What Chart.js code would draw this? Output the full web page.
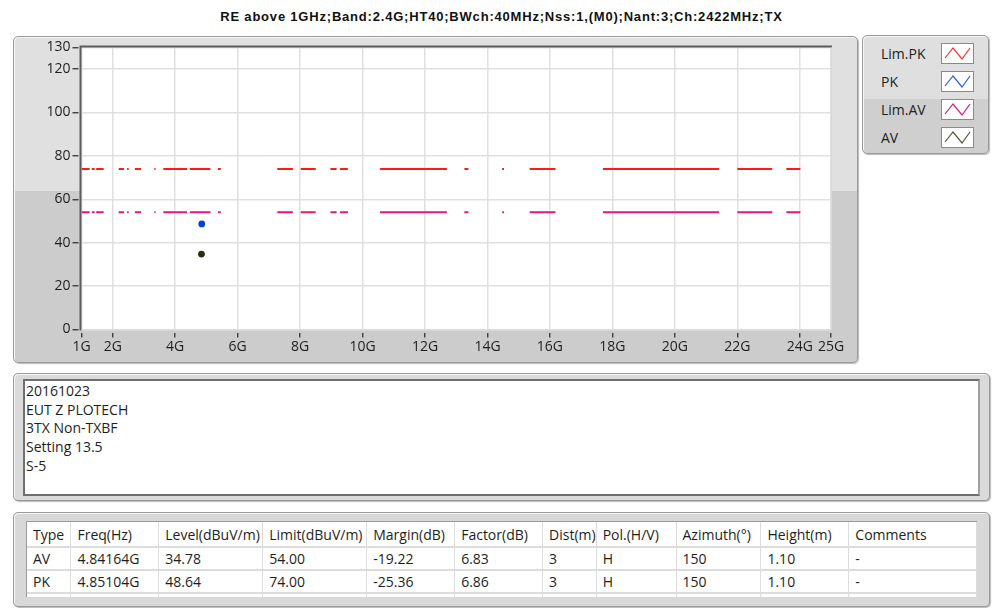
<!DOCTYPE html>
<html><head><meta charset="utf-8">
<script src="https://cdn.jsdelivr.net/npm/chart.js@4.4.0/dist/chart.umd.min.js"></script>
<style>
html,body{margin:0;padding:0;background:#fff;width:1003px;height:608px;overflow:hidden;font-family:"Open Sans",sans-serif;color:#1e1e1e;}
#title{position:absolute;left:0;top:9px;width:1003px;text-align:center;font:bold 13px "Liberation Sans",sans-serif;letter-spacing:0.8px;color:#111;}
.panel{position:absolute;box-sizing:border-box;border:1px solid #9a9a9a;border-radius:5px;box-shadow:1px 1px 1px rgba(0,0,0,0.28), inset 1px 1px 0 #f6f6f6;}
#gpanel{left:13px;top:36px;width:845px;height:327px;background:linear-gradient(to bottom,#e0e0e0 0,#e0e0e0 154px,#cccccc 154px,#cccccc 100%);}
#cwrap{position:absolute;left:14px;top:37px;width:842px;height:325px;}
#lpanel{left:862px;top:35px;width:127px;height:119px;background:linear-gradient(to bottom,#dfdfdf 0,#dfdfdf 63px,#cfcfcf 63px,#cfcfcf 100%);}
.li{position:absolute;left:18px;font-size:14px;line-height:18px;color:#222;}
.sw{position:absolute;left:78px;width:33px;height:21px;box-sizing:border-box;background:#fff;border:1px solid #8a8a8a;}
#tpanel{left:13px;top:373px;width:977px;height:128px;background:#dadada;}
#tbox{position:absolute;left:23px;top:379px;width:957px;height:117px;box-sizing:border-box;background:#fff;border:2px solid #6e6e6e;border-right-color:#a0a0a0;padding:1px 0 0 1px;font-size:14px;line-height:18.7px;color:#1e1e1e;}
#bpanel{left:13px;top:512px;width:977px;height:95px;background:#d8d8d8;}
#twrap{position:absolute;left:26px;top:521px;width:950px;height:75px;overflow:hidden;background:#fff;border-top:1px solid #9a9a9a;border-left:1px solid #9a9a9a;}
table{border-collapse:collapse;font-size:14px;color:#1e1e1e;table-layout:fixed;}
td{border:1px solid #dcdcdc;border-width:0 1px 2px 0;padding:0 0 0 6px;white-space:nowrap;overflow:hidden;}
tr.h td{height:24px;}
tr.r td{height:21px;}
</style></head><body>
<div id="title">RE above 1GHz;Band:2.4G;HT40;BWch:40MHz;Nss:1,(M0);Nant:3;Ch:2422MHz;TX</div>
<div class="panel" id="gpanel"></div>
<div id="cwrap"><canvas id="c"></canvas></div>
<div class="panel" id="lpanel"></div>
<div class="panel" id="tpanel"></div>
<div id="tbox"></div>
<div class="panel" id="bpanel"></div>
<div id="twrap"></div>
<script>
// ---- data ----
const seriesNames = ["Lim.PK","PK","Lim.AV","AV"];
const seriesColors = ["#ff1a1a","#0a3fd8","#e2187e","#2c2c12"];
const legendIconColors = ["#ff3030","#2a5ee8","#e2187e","#55553a"];
const xTicksGHz = [1,2,4,6,8,10,12,14,16,18,20,22,24,25];
const yTicks = [0,20,40,60,80,100,120,130];
const bandStartGHz = [1.00,1.33,1.47,2.19,2.46,2.71,3.33,3.62,4.47,5.37,7.27,8.02,8.97,9.28,10.56,13.26,14.47,15.35,17.70,22.00,23.57];
const bandEndGHz   = [1.26,1.42,1.71,2.36,2.51,2.91,3.37,4.38,5.13,5.46,7.77,8.50,9.17,9.53,12.70,13.39,14.53,16.18,21.42,23.12,24.02];
const limitPK = 74;
const limitAV = 54;
const pkFreqGHz = [4.85104];
const pkLevel = [48.64];
const avFreqGHz = [4.84164];
const avLevel = [34.78];
const noteLines = ["20161023","EUT Z PLOTECH","3TX Non-TXBF","Setting 13.5","S-5"];
const tableHeader = ["Type","Freq(Hz)","Level(dBuV/m)","Limit(dBuV/m)","Margin(dB)","Factor(dB)","Dist(m)","Pol.(H/V)","Azimuth(°)","Height(m)","Comments"];
const tableRows = [
  ["AV","4.84164G","34.78","54.00","-19.22","6.83","3","H","150","1.10","-"],
  ["PK","4.85104G","48.64","74.00","-25.36","6.86","3","H","150","1.10","-"]
];
const colWidths = [44,88,104,104,88,88,53,80,85,88,128];

// ---- build ----
function limitData(level){
  const d=[];
  for(let i=0;i<bandStartGHz.length;i++){
    d.push({x:bandStartGHz[i],y:level},{x:bandEndGHz[i],y:level},{x:bandEndGHz[i],y:null});
  }
  return d;
}
const pts=(xs,ys)=>xs.map((x,i)=>({x:x,y:ys[i]}));

const plotFrame={
  id:'plotFrame',
  beforeDraw(chart){
    const a=chart.chartArea,ctx=chart.ctx;
    ctx.save();ctx.fillStyle='#ffffff';ctx.fillRect(a.left,a.top,a.right-a.left,a.bottom-a.top);ctx.restore();
  },
  afterDatasetsDraw(chart){
    const a=chart.chartArea,ctx=chart.ctx;
    ctx.save();
    ctx.strokeStyle='#5c5c5c';ctx.lineWidth=2;
    ctx.beginPath();ctx.moveTo(a.left-1,a.bottom+1);ctx.lineTo(a.left-1,a.top-1);ctx.lineTo(a.right+1,a.top-1);ctx.stroke();
    ctx.strokeStyle='#d8d8d8';ctx.lineWidth=1;
    ctx.beginPath();ctx.moveTo(a.left,a.bottom+0.5);ctx.lineTo(a.right+0.5,a.bottom+0.5);ctx.lineTo(a.right+0.5,a.top);ctx.stroke();
    ctx.restore();
  }
};

new Chart(document.getElementById('c'),{
  type:'line',
  data:{datasets:[
    {label:seriesNames[0],data:limitData(limitPK),borderColor:seriesColors[0],borderWidth:2,pointRadius:0,spanGaps:false,borderCapStyle:'butt'},
    {label:seriesNames[1],data:pts(pkFreqGHz,pkLevel),showLine:false,pointRadius:3.4,pointBackgroundColor:seriesColors[1],pointBorderColor:seriesColors[1],pointBorderWidth:0},
    {label:seriesNames[2],data:limitData(limitAV),borderColor:seriesColors[2],borderWidth:2,pointRadius:0,spanGaps:false,borderCapStyle:'butt'},
    {label:seriesNames[3],data:pts(avFreqGHz,avLevel),showLine:false,pointRadius:3.4,pointBackgroundColor:seriesColors[3],pointBorderColor:seriesColors[3],pointBorderWidth:0}
  ]},
  options:{
    responsive:true,maintainAspectRatio:false,animation:false,
    layout:{padding:{left:0,top:8.5,right:25,bottom:0}},
    plugins:{legend:{display:false},tooltip:{enabled:false}},
    scales:{
      x:{type:'linear',min:1,max:25,
        afterBuildTicks(s){s.ticks=xTicksGHz.map(v=>({value:v}));},
        afterFit(s){s.height=32.5;},
        border:{display:false},
        grid:{color:'#e0e0e0',lineWidth:1.5,tickLength:8,tickColor:'#333',tickWidth:1.3,tickBorderDash:[0,3,5,30]},
        ticks:{autoSkip:false,maxRotation:0,padding:1,color:'#1e1e1e',font:{family:'Open Sans',size:14},callback:v=>v+'G'}
      },
      y:{type:'linear',min:0,max:130,
        afterBuildTicks(s){s.ticks=yTicks.map(v=>({value:v}));},
        afterFit(s){s.width=67.5;},
        border:{display:false},
        grid:{color:'#e0e0e0',lineWidth:1.5,tickLength:9,tickColor:'#333',tickWidth:1.3,tickBorderDash:[6,30]},
        ticks:{padding:2,color:'#1e1e1e',font:{family:'Open Sans',size:14}}
      }
    }
  },
  plugins:[plotFrame]
});

// legend
const lp=document.getElementById('lpanel');
const ly=[9,37,65,93];
seriesNames.forEach((n,i)=>{
  const t=document.createElement('div');t.className='li';t.style.top=(ly[i])+'px';t.textContent=n;lp.appendChild(t);
  const s=document.createElement('div');s.className='sw';s.style.top=(ly[i]-2)+'px';
  s.innerHTML='<svg width="31" height="19"><polyline points="3,14 11,4 20,15 28,4" fill="none" stroke="'+legendIconColors[i]+'" stroke-width="1.2"/></svg>';
  lp.appendChild(s);
});

// notes
document.getElementById('tbox').innerHTML=noteLines.map(l=>'<div>'+l+'</div>').join('');

// table
let h='<table><colgroup>'+colWidths.map(w=>'<col style="width:'+w+'px">').join('')+'</colgroup>';
h+='<tr class="h">'+tableHeader.map(c=>'<td>'+c+'</td>').join('')+'</tr>';
tableRows.forEach(r=>{h+='<tr class="r">'+r.map(c=>'<td>'+c+'</td>').join('')+'</tr>';});
h+='<tr class="r">'+tableHeader.map(()=>'<td></td>').join('')+'</tr></table>';
document.getElementById('twrap').innerHTML=h;
</script>
</body></html>
